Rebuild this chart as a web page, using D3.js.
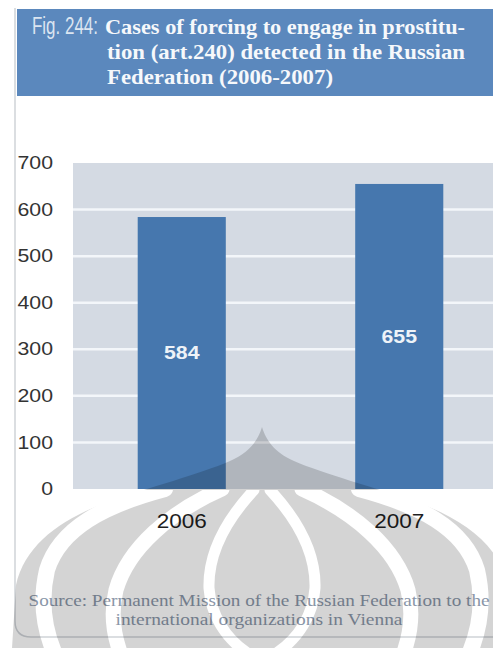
<!DOCTYPE html>
<html>
<head>
<meta charset="utf-8">
<script src="https://cdn.jsdelivr.net/npm/d3@7"></script>
<style>
  html, body { margin: 0; padding: 0; background: #ffffff; }
  svg { display: block; }
</style>
</head>
<body>
<div id="chart"></div>
<script>
// ---- data ----
const categories = ["2006", "2007"];
const values = [584, 655];
const yTicks = [0, 100, 200, 300, 400, 500, 600, 700];
const gridTicks = [100, 200, 300, 400, 500, 600];
const figLabel = "Fig. 244:";
const titleLines = [
  "Cases of forcing to engage in prostitu-",
  "tion (art.240) detected in the Russian",
  "Federation (2006-2007)"
];
const sourceLines = [
  "Source: Permanent Mission of the Russian Federation to the",
  "international organizations in Vienna"
];

// ---- layout ----
const W = 493, H = 648;
const svg = d3.select("#chart").append("svg")
  .attr("width", W).attr("height", H)
  .attr("viewBox", `0 0 ${W} ${H}`);

const defs = svg.append("defs");

svg.append("rect").attr("width", W).attr("height", H).attr("fill", "#ffffff");

// panel outline (left + bottom with rounded corner)
svg.append("path")
  .attr("d", "M15,8 L15,621 Q15,637 31,637 L520,637")
  .attr("fill", "none")
  .attr("stroke", "#cfd3d8")
  .attr("stroke-width", 1.5);

// title banner
svg.append("rect")
  .attr("x", 17).attr("y", 9).attr("width", W - 17).attr("height", 87)
  .attr("fill", "#5b88bd");

// condensed figure number, squeezed to its slot width
const fig = svg.append("text")
  .attr("font-family", "'Liberation Sans Narrow', 'Liberation Sans', Arial, sans-serif")
  .attr("font-size", 23)
  .attr("fill", "#dbe5f1")
  .text(figLabel);
const figW = fig.node().getComputedTextLength() || 66;
fig.attr("transform", `translate(32,34) scale(${66 / figW},1)`);

const titleX = [105, 107, 107];
const titleY = [34, 59, 84];
const titleLen = [360, 358, 226];
svg.append("g").selectAll("text").data(titleLines).join("text")
  .attr("x", (d, i) => titleX[i])
  .attr("y", (d, i) => titleY[i])
  .attr("textLength", (d, i) => titleLen[i])
  .attr("lengthAdjust", "spacingAndGlyphs")
  .attr("font-family", "'Liberation Serif', 'Times New Roman', serif")
  .attr("font-weight", "bold")
  .attr("font-size", 21)
  .attr("fill", "#f6f8fb")
  .text(d => d);

// ---- scales ----
const plotLeft = 73, plotRight = 508, plotTop = 163, plotBottom = 489;
const y = d3.scaleLinear().domain([0, 700]).range([plotBottom, plotTop]);
const x = d3.scaleBand().domain(categories)
  .range([plotLeft, plotRight])
  .paddingInner(0.595).paddingOuter(0.2975);

// plot background
svg.append("rect")
  .attr("x", plotLeft).attr("y", y(700))
  .attr("width", plotRight - plotLeft).attr("height", y(0) - y(700))
  .attr("fill", "#d4dae3");

// gridlines
svg.append("g").selectAll("line").data(gridTicks).join("line")
  .attr("x1", plotLeft).attr("x2", plotRight)
  .attr("y1", d => y(d)).attr("y2", d => y(d))
  .attr("stroke", "#f3f6fa").attr("stroke-width", 2.5);

// y axis
const sx = 1.12;
const yAxis = svg.append("g")
  .attr("transform", `translate(${plotLeft},0)`)
  .call(d3.axisLeft(y).tickValues(yTicks).tickSize(0).tickPadding(20));
yAxis.select(".domain").remove();
yAxis.selectAll("text")
  .attr("font-family", "'Liberation Sans', Arial, sans-serif")
  .attr("font-size", 19)
  .attr("fill", "#333333")
  .attr("x", -20 / sx)
  .attr("dy", "0.3em")
  .attr("transform", `scale(${sx},1)`);

// bars
svg.append("g").selectAll("rect").data(values).join("rect")
  .attr("x", (d, i) => x(categories[i]))
  .attr("y", d => y(d))
  .attr("width", x.bandwidth())
  .attr("height", d => y(0) - y(d))
  .attr("fill", "#4677ae");

// value labels in the middle of each bar
svg.append("g").selectAll("text").data(values).join("text")
  .attr("transform", (d, i) =>
    `translate(${x(categories[i]) + x.bandwidth() / 2},${(y(d) + y(0)) / 2}) scale(1.15,1)`)
  .attr("text-anchor", "middle")
  .attr("dy", "0.35em")
  .attr("font-family", "'Liberation Sans', Arial, sans-serif")
  .attr("font-weight", "bold")
  .attr("font-size", 18.5)
  .attr("fill", "#eef3f8")
  .text(d => d);

// x axis (category labels)
const xAxis = svg.append("g")
  .attr("transform", `translate(0,${plotBottom})`)
  .call(d3.axisBottom(x).tickSize(0).tickPadding(24));
xAxis.select(".domain").remove();
xAxis.selectAll("text")
  .attr("font-family", "'Liberation Sans', Arial, sans-serif")
  .attr("font-size", 20.5)
  .attr("fill", "#1f1f1f")
  .attr("transform", "scale(1.1,1)");

// source note
const srcY = [606, 625];
const srcLen = [461, 287];
svg.append("g").selectAll("text").data(sourceLines).join("text")
  .attr("x", 259)
  .attr("y", (d, i) => srcY[i])
  .attr("text-anchor", "middle")
  .attr("textLength", (d, i) => srcLen[i])
  .attr("lengthAdjust", "spacingAndGlyphs")
  .attr("font-family", "'Liberation Serif', 'Times New Roman', serif")
  .attr("font-size", 17)
  .attr("fill", "#8a96a8")
  .text(d => d);

// ---- translucent emblem in the lower half ----
defs.append("clipPath").attr("id", "below-plot")
  .append("rect").attr("x", 0).attr("y", plotBottom + 1).attr("width", W + 40).attr("height", H);

const mask = defs.append("mask").attr("id", "emblem-cut")
  .attr("maskUnits", "userSpaceOnUse")
  .attr("x", 0).attr("y", 0).attr("width", W + 40).attr("height", H);
mask.append("rect").attr("x", 0).attr("y", 0).attr("width", W + 40).attr("height", H).attr("fill", "#fff");

const cuts = [
  { d: "M165,489 C105,505 60,528 47,570 C40,600 44,628 54,652", w: 16 },
  { d: "M222,489 C170,512 128,548 116,590 C110,615 114,635 120,652", w: 15 },
  { d: "M254,490 C228,518 208,552 209,588 C211,616 226,638 246,652", w: 11 }
];
const cutGroup = mask.append("g").attr("clip-path", "url(#below-plot)");
["", "translate(524,0) scale(-1,1)"].forEach(t => {
  cutGroup.append("g").attr("transform", t)
    .selectAll("path").data(cuts).join("path")
    .attr("d", d => d.d)
    .attr("fill", "none")
    .attr("stroke", "#000")
    .attr("stroke-width", d => d.w)
    .attr("stroke-linecap", "round");
});

svg.append("path")
  .attr("d", "M262,427 C258,440 250,452 230,461 C200,474 150,487 105,503 " +
             "C60,520 25,545 16,585 L12,648 L512,648 L508,585 " +
             "C499,545 464,520 419,503 C374,487 324,474 294,461 " +
             "C274,452 266,440 262,427 Z")
  .attr("fill", "#000")
  .attr("fill-opacity", 0.17)
  .attr("mask", "url(#emblem-cut)");
</script>
</body>
</html>
